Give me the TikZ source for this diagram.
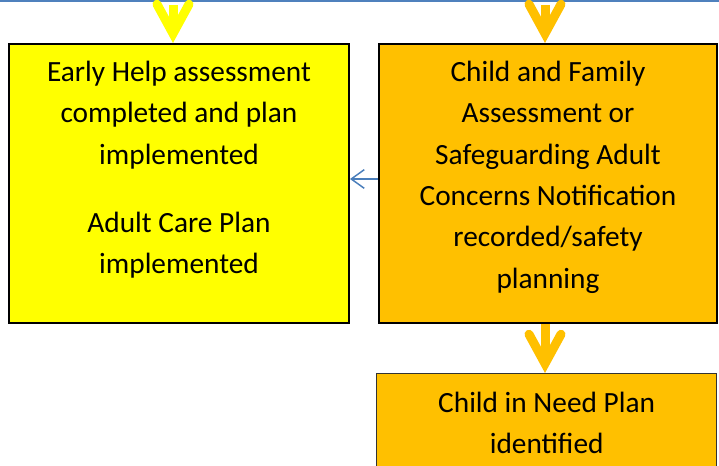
\documentclass[tikz,border=0pt]{standalone}
\usepackage{fontspec}
\setmainfont{Carlito}
\usetikzlibrary{arrows.meta}

\definecolor{ehyellow}{HTML}{FFFF00}
\definecolor{cfaorange}{HTML}{FFC000}
\definecolor{ruleblue}{HTML}{4F81BD}
\definecolor{linkblue}{HTML}{4A7EBB}

\newcommand\flowtextstyle{\fontsize{22}{31}\selectfont}
\newcommand\flowparskip{20pt}
\newcommand\flowboxheight{209.25pt}
\newcommand\flowheadstyle{[length=22pt, width=24pt, line cap=round, line join=miter]}

\tikzset{
  flowbox/.style={draw=black, line width=1.5pt, inner sep=0pt, anchor=north west},
  flowtext/.style={anchor=north, inner sep=0pt, align=center, font=\flowtextstyle},
  flowarrow/.style={line width=6.75pt, -{Straight Barb\flowheadstyle}},
  linkarrow/.style={draw=linkblue, line width=1.1pt, -{Straight Barb[length=9.75pt, width=14pt]}},
}

\begin{document}
\begin{tikzpicture}[x=0.75pt, y=-0.75pt]
    \useasboundingbox (0, 0) rectangle (719, 466) ;
    % page rule
    \draw (0, 1)[ruleblue, line width=1.5pt] -- (719, 1) ;

    % boxes
    \node[flowbox, fill=ehyellow, minimum width=255pt, minimum height=\flowboxheight] (early) at (8, 43) {} ;
    \node[flowbox, fill=cfaorange, minimum width=253.5pt, minimum height=\flowboxheight] (cfa) at (378, 43) {} ;
    \node[flowbox, fill=cfaorange, draw=black!80, line width=1pt, minimum width=255pt, minimum height=120pt] (cin) at (376, 373) {} ;

    \node[flowtext] (earlytext) at ([yshift=-13.4pt]early.north)
      {Early Help assessment\\completed and plan\\implemented\\[\flowparskip]Adult Care Plan\\implemented} ;
    \node[flowtext] (cfatext) at ([yshift=-13.4pt]cfa.north)
      {Child and Family\\Assessment or\\Safeguarding Adult\\Concerns Notification\\recorded/safety\\planning} ;
    \node[flowtext] (cintext) at ([yshift=-14.2pt]cin.north)
      {Child in Need Plan\\identified} ;

    % arrows
    \coordinate (earlyfeed) at (173, 5) ;
    \coordinate (cfafeed) at (545, 5) ;
    \coordinate (linky) at (0, 179) ;
    \draw[flowarrow, ehyellow] (earlyfeed) -- (earlyfeed |- early.north) ;
    \draw[flowarrow, cfaorange] (cfafeed) -- (cfafeed |- cfa.north) ;
    \draw[flowarrow, cfaorange] (cfafeed |- cfa.south) -- (cfafeed |- cin.north) ;
    \draw[linkarrow] (cfa.west |- linky) -- (early.east |- linky) ;
\end{tikzpicture}
\end{document}
